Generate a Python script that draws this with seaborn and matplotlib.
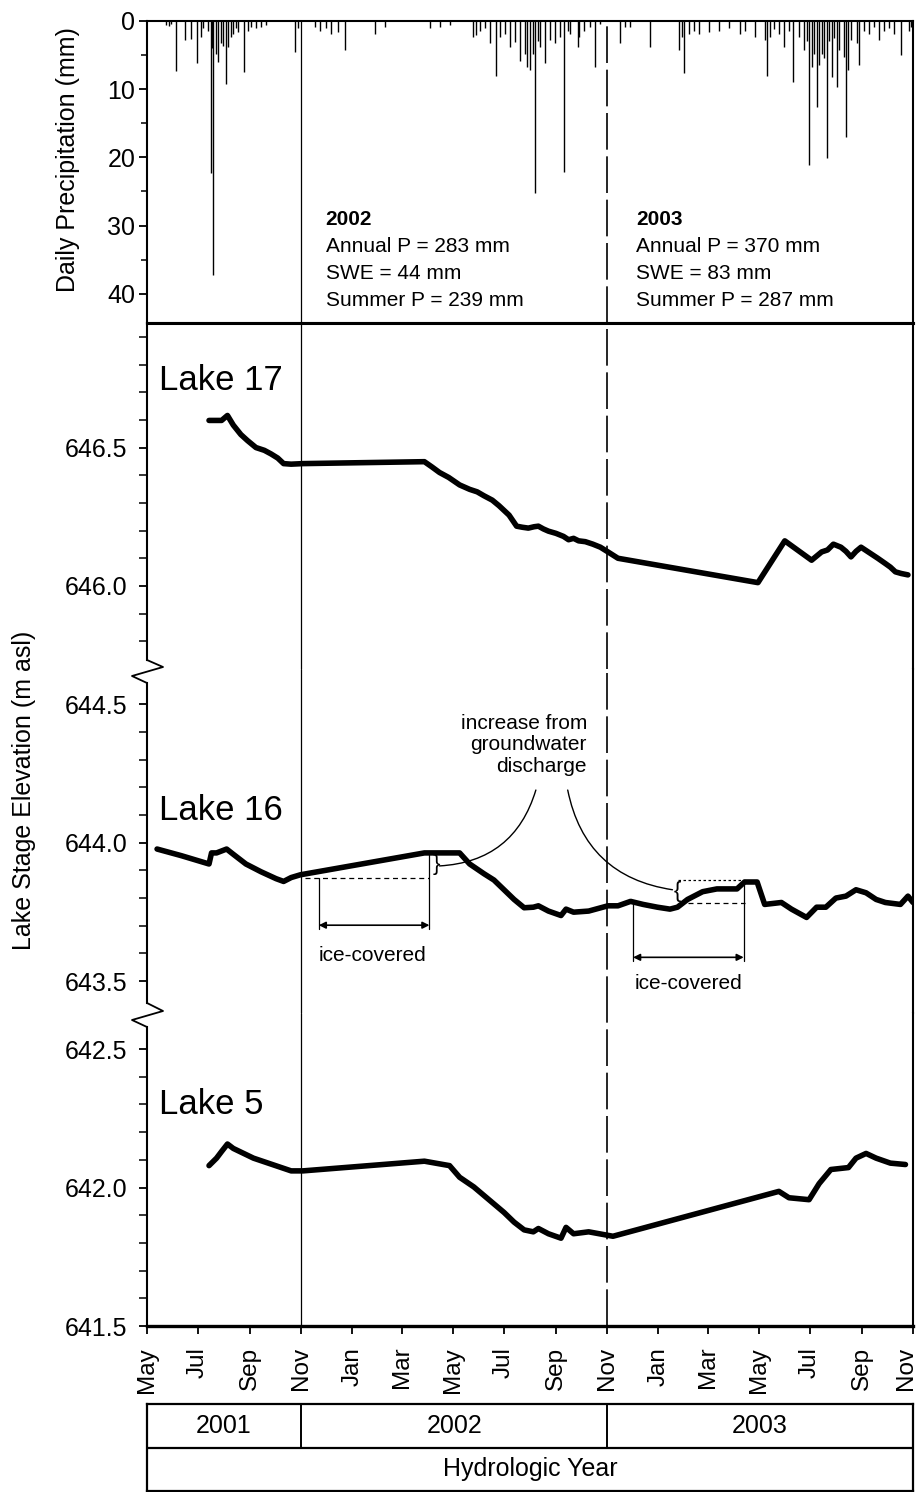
import numpy as np
import pandas as pd
import matplotlib
matplotlib.use("Agg")
import matplotlib.pyplot as plt
import matplotlib.dates as mdates
import matplotlib.transforms as mtransforms
from matplotlib.ticker import MultipleLocator, FixedLocator, FormatStrFormatter
from matplotlib.lines import Line2D
import seaborn as sns

sns.set_theme(style="ticks")
plt.rcParams['font.family'] = ['Liberation Sans', 'DejaVu Sans']
plt.rcParams['text.color'] = 'black'
plt.rcParams['axes.labelcolor'] = 'black'
plt.rcParams['xtick.color'] = 'black'
plt.rcParams['ytick.color'] = 'black'

START = pd.Timestamp("2001-05-01")
END = pd.Timestamp("2003-11-01")
NOV01 = pd.Timestamp("2001-11-01")
NOV02 = pd.Timestamp("2002-11-01")

# ---------------- data (days since 2001-05-01) ----------------
precip_day = [23, 26, 29, 35, 45, 52, 60, 64, 67, 73, 76, 78, 79, 82, 85, 88, 91, 94, 97, 100,
              103, 106, 109, 116, 121, 124, 130, 136, 142, 177, 180, 201, 207, 213, 219, 228, 236, 272, 284, 338,
              350, 362, 389, 392, 397, 403, 409, 417, 421, 427, 433, 439, 445, 451, 454, 457, 460, 463, 466, 469,
              475, 481, 487, 493, 497, 502, 505, 514, 516, 522, 528, 534, 540, 564, 570, 576, 600, 635, 638, 641,
              647, 653, 659, 671, 683, 695, 707, 713, 725, 737, 740, 743, 748, 754, 760, 766, 771, 778, 784, 787,
              790, 793, 796, 799, 802, 805, 808, 811, 814, 817, 820, 823, 826, 832, 834, 837, 840, 847, 850, 856,
              862, 867, 873, 879, 885, 891, 900, 909, 912]
precip_mm = [0.6, 0.8, 0.5, 7.4, 2.8, 2.6, 6.2, 2.3, 1.0, 1.5, 22.3, 4.0, 37.2, 4.8, 6.0, 3.3, 3.6, 9.2, 3.8, 2.3,
             1.9, 1.0, 1.6, 7.5, 1.4, 0.9, 1.1, 0.9, 0.6, 4.5, 1.0, 0.9, 1.5, 1.0, 1.9, 1.6, 4.3, 1.9, 0.9, 1.1,
             0.9, 0.6, 2.3, 2.1, 1.4, 1.1, 3.3, 8.0, 2.3, 1.9, 3.8, 3.1, 5.8, 4.8, 6.7, 7.2, 4.8, 25.3, 3.0, 3.8,
             6.2, 2.8, 3.3, 2.3, 22.1, 1.5, 1.9, 3.8, 2.3, 1.4, 0.9, 6.7, 0.5, 3.3, 0.9, 0.9, 3.8, 4.3, 2.3, 7.7,
             1.9, 1.4, 1.9, 1.6, 1.4, 1.1, 1.9, 1.4, 2.3, 2.8, 8.0, 2.3, 1.2, 1.9, 3.8, 1.4, 8.9, 2.3, 4.3, 3.0,
             21.1, 6.7, 4.8, 12.6, 6.5, 4.8, 5.5, 20.1, 3.0, 8.2, 2.5, 9.7, 4.3, 5.3, 17.0, 7.2, 2.8, 3.3, 6.5, 1.5,
             1.9, 0.9, 2.8, 1.4, 1.0, 1.9, 5.0, 1.4, 0.9]

lake17_day = [74, 89, 96, 103, 112, 120, 130, 140, 148, 156, 163, 172, 186, 331, 340, 349, 360, 373, 385, 394,
              402, 412, 420, 432, 441, 448, 455, 462, 467, 473, 479, 488, 497, 503, 509, 515, 523, 532, 541, 550,
              562, 729, 761, 793, 805, 812, 819, 828, 834, 840, 846, 852, 858, 864, 872, 881, 887, 893, 900, 908]
lake17_m = [646.598, 646.598, 646.616, 646.581, 646.547, 646.525, 646.500, 646.490, 646.477, 646.462,
            646.442, 646.440, 646.442, 646.449, 646.430, 646.410, 646.392, 646.365, 646.349, 646.340,
            646.326, 646.310, 646.290, 646.256, 646.216, 646.212, 646.209, 646.214, 646.216, 646.206,
            646.198, 646.190, 646.179, 646.167, 646.172, 646.163, 646.160, 646.151, 646.140, 646.123,
            646.100, 646.012, 646.163, 646.093, 646.123, 646.130, 646.151, 646.140, 646.125, 646.105,
            646.125, 646.140, 646.128, 646.116, 646.100, 646.081, 646.068, 646.051, 646.045, 646.040]

lake16_day = [12, 41, 74, 77, 83, 95, 103, 118, 136, 154, 163, 172, 183, 331, 373, 385, 402, 414, 426, 438,
              450, 461, 467, 479, 494, 500, 509, 527, 550, 562, 577, 592, 609, 624, 633, 645, 663, 680, 704, 713,
              728, 737, 757, 769, 787, 799, 810, 822, 834, 846, 858, 870, 881, 899, 908, 914]
lake16_m = [643.977, 643.953, 643.923, 643.963, 643.963, 643.977, 643.958, 643.923, 643.895, 643.870,
            643.860, 643.874, 643.884, 643.963, 643.963, 643.923, 643.888, 643.865, 643.830, 643.795,
            643.765, 643.767, 643.772, 643.753, 643.737, 643.760, 643.749, 643.753, 643.772, 643.772,
            643.788, 643.777, 643.767, 643.760, 643.767, 643.795, 643.823, 643.833, 643.833, 643.858,
            643.858, 643.777, 643.784, 643.760, 643.730, 643.767, 643.767, 643.800, 643.807, 643.830,
            643.819, 643.795, 643.784, 643.777, 643.807, 643.784]

lake5_day = [74, 83, 89, 96, 103, 127, 172, 186, 331, 361, 373, 390, 408, 426, 438, 450, 461, 467, 479, 494,
             500, 509, 527, 556, 754, 766, 790, 802, 816, 837, 846, 858, 870, 887, 905]
lake5_m = [642.079, 642.106, 642.130, 642.157, 642.141, 642.106, 642.060, 642.060, 642.095, 642.079,
           642.037, 642.002, 641.956, 641.910, 641.875, 641.847, 641.840, 641.852, 641.833, 641.817,
           641.856, 641.833, 641.840, 641.824, 641.986, 641.963, 641.956, 642.014, 642.065, 642.072,
           642.106, 642.123, 642.106, 642.088, 642.083]

year_labels = ["2001", "2002", "2003"]
year_bounds = [START, NOV01, NOV02, END]
stats_2002 = ["2002", "Annual P = 283 mm", "SWE = 44 mm", "Summer P = 239 mm"]
stats_2003 = ["2003", "Annual P = 370 mm", "SWE = 83 mm", "Summer P = 287 mm"]


def to_dates(days):
    return START + pd.to_timedelta(np.asarray(days), unit="D")


# ---------------- layout ----------------
W, H = 921, 1492
fig = plt.figure(figsize=(W / 100, H / 100), dpi=100)


def rect(l, t, r, b):
    return [l / W, 1 - b / H, (r - l) / W, (b - t) / H]


L, R = 147, 913
B1, B2 = 669, 1013
ax_p = fig.add_axes(rect(L, 21, R, 323))
ax17 = fig.add_axes(rect(L, 323, R, B1), sharex=ax_p)
ax16 = fig.add_axes(rect(L, B1, R, B2), sharex=ax_p)
ax5 = fig.add_axes(rect(L, B2, R, 1326), sharex=ax_p)
ax_y = fig.add_axes(rect(L, 1404, R, 1491), sharex=ax_p)

seg_lims = {ax17: (645.70, 646.95), ax16: (643.385, 644.627), ax5: (641.5, 642.630)}
PX_PER_M = 277.0
LAKE_LW = 4.0

# ---------------- precipitation ----------------
ax_p.vlines(to_dates(precip_day), 0, precip_mm, color="black", lw=1.0)
ax_p.set_ylim(44.3, 0)
ax_p.yaxis.set_major_locator(MultipleLocator(10))
ax_p.yaxis.set_minor_locator(MultipleLocator(5))
ax_p.tick_params(axis="y", which="major", direction="out", length=6, width=1.3,
                 labelsize=18, pad=2.5, colors="black")
ax_p.tick_params(axis="y", which="minor", direction="out", length=4, width=1.1, colors="black")
for s in ax_p.spines.values():
    s.set_color("black")
    s.set_linewidth(1.5)
ax_p.spines["bottom"].set_linewidth(2.2)
ax_p.set_ylabel("")

for stats, day in ((stats_2002, 213), (stats_2003, 584)):
    x = START + pd.Timedelta(days=day)
    for i, line in enumerate(stats):
        ax_p.text(x, 29.1 + 3.95 * i, line, fontsize=15, va="center", ha="left",
                  fontweight="bold" if i == 0 else "normal", color="black")

fig.text(68 / W, 1 - 160 / H, "Daily Precipitation (mm)", rotation=90, fontsize=18,
         ha="center", va="center", color="black")

# ---------------- lakes ----------------
sns.lineplot(x=to_dates(lake17_day), y=lake17_m, ax=ax17, color="black", lw=LAKE_LW,
             estimator=None, sort=False)
sns.lineplot(x=to_dates(lake16_day), y=lake16_m, ax=ax16, color="black", lw=LAKE_LW,
             estimator=None, sort=False)
sns.lineplot(x=to_dates(lake5_day), y=lake5_m, ax=ax5, color="black", lw=LAKE_LW,
             estimator=None, sort=False)

for ax, (lo, hi) in seg_lims.items():
    ax.set_ylim(lo, hi)
    ax.set_ylabel("")
    ax.yaxis.set_major_locator(MultipleLocator(0.5))
    ax.yaxis.set_major_formatter(FormatStrFormatter("%.1f"))
    ax.tick_params(axis="y", which="major", direction="out", length=6, width=1.3,
                   labelsize=18, pad=8, colors="black")
    ax.tick_params(axis="y", which="minor", direction="out", length=6, width=1.1, colors="black")
    for s in ax.spines.values():
        s.set_color("black")
        s.set_linewidth(1.5)
    ax.spines["bottom"].set_visible(False)
    ax.spines["top"].set_visible(False)

# spine bounds with breaks
ax17.spines["left"].set_bounds(645.70 + 9 / PX_PER_M, 646.95)
ax16.spines["left"].set_bounds(643.385 + 10 / PX_PER_M, 644.627 - 14 / PX_PER_M)
ax5.spines["left"].set_bounds(641.5, 642.630 - 14 / PX_PER_M)
ax17.yaxis.set_minor_locator(FixedLocator(np.round(np.arange(645.8, 646.95, 0.1), 1)))
ax16.yaxis.set_minor_locator(FixedLocator(np.round(np.arange(643.5, 644.55, 0.1), 1)))
ax5.yaxis.set_minor_locator(FixedLocator(np.round(np.arange(641.5, 642.55, 0.1), 1)))
ax17.spines["top"].set_visible(True)
ax17.spines["top"].set_linewidth(2.2)
ax5.spines["bottom"].set_visible(True)
ax5.spines["bottom"].set_linewidth(2.4)

# zigzag break marks
for yb, up, dn in ((B1, 9, 14), (B2, 10, 14)):
    xs = [L, L + 16, L - 15, L]
    ys = [yb - up, yb - 2, yb + 7, yb + dn]
    fig.add_artist(Line2D([x / W for x in xs], [1 - y / H for y in ys], color="black",
                          lw=1.3, transform=fig.transFigure))

# lake labels
ax17.text(START + pd.Timedelta(days=14), 646.742, "Lake 17", fontsize=25, va="center", ha="left",
          color="black")
ax16.text(START + pd.Timedelta(days=14), 644.117, "Lake 16", fontsize=25, va="center", ha="left",
          color="black")
ax5.text(START + pd.Timedelta(days=14), 642.300, "Lake 5", fontsize=25, va="center", ha="left",
         color="black")

fig.text(24 / W, 1 - 790 / H, "Lake Stage Elevation (m asl)", rotation=90, fontsize=18,
         ha="center", va="center", color="black")

# vertical hydrologic-year lines
for ax in (ax_p, ax17, ax16, ax5):
    ax.axvline(NOV01, color="black", lw=0.9)
    ax.axvline(NOV02, color="black", lw=1.2, dashes=(22, 4))


# ice-covered annotations (lake 16)
def d(n):
    return START + pd.Timedelta(days=n)


ax16.plot([d(189), d(337)], [643.874, 643.874], color="black", lw=0.9, dashes=(4, 3))
ax16.plot([d(205), d(205)], [643.874, 643.690], color="black", lw=0.9)
ax16.plot([d(337), d(337)], [643.963, 643.690], color="black", lw=0.9)
ax16.annotate("", xy=(d(337), 643.702), xytext=(d(205), 643.702),
              arrowprops=dict(arrowstyle="<|-|>", color="black", lw=1.2, mutation_scale=10,
                              shrinkA=0, shrinkB=0))
ax16.text(d(269), 643.591, "ice-covered", fontsize=15, ha="center", va="center", color="black")
ax16.text(d(341), 643.921, "}", fontsize=16, ha="left", va="center", color="black")

ax16.plot([d(633), d(713)], [643.865, 643.865], color="black", lw=0.9, dashes=(2, 2))
ax16.plot([d(645), d(713)], [643.781, 643.781], color="black", lw=0.9, dashes=(4, 3))
ax16.plot([d(580), d(580)], [643.784, 643.574], color="black", lw=0.9)
ax16.plot([d(712), d(712)], [643.858, 643.574], color="black", lw=0.9)
ax16.annotate("", xy=(d(712), 643.586), xytext=(d(580), 643.586),
              arrowprops=dict(arrowstyle="<|-|>", color="black", lw=1.2, mutation_scale=10,
                              shrinkA=0, shrinkB=0))
ax16.text(d(646), 643.493, "ice-covered", fontsize=15, ha="center", va="center", color="black")
ax16.text(d(637), 643.823, "{", fontsize=16, ha="right", va="center", color="black")

ax16.text(d(525), 644.353, "increase from\ngroundwater\ndischarge", fontsize=15,
          ha="right", va="center", multialignment="right", linespacing=1.15, color="black")
ax16.annotate("", xy=(d(349), 643.916), xytext=(d(464), 644.19),
              arrowprops=dict(arrowstyle="-", color="black", lw=1.0,
                              connectionstyle="arc3,rad=-0.35", shrinkA=0, shrinkB=0))
ax16.annotate("", xy=(d(627), 643.83), xytext=(d(502), 644.19),
              arrowprops=dict(arrowstyle="-", color="black", lw=1.0,
                              connectionstyle="arc3,rad=0.35", shrinkA=0, shrinkB=0))

# ---------------- x axis ----------------
ax_p.set_xlim(START, END)
ax5.xaxis.set_major_locator(mdates.MonthLocator(bymonth=[1, 3, 5, 7, 9, 11]))
ax5.xaxis.set_major_formatter(mdates.DateFormatter("%b"))
for ax in (ax_p, ax17, ax16, ax_y):
    ax.tick_params(axis="x", which="both", bottom=False, top=False, labelbottom=False)
ax5.tick_params(axis="x", which="major", bottom=True, direction="out", length=6, width=1.3,
                labelsize=17.5, pad=9, labelrotation=90, colors="black")
ax5.set_xlabel("")

# ---------------- hydrologic year boxes ----------------
ax_y.set_ylim(0, 2)
ax_y.tick_params(axis="y", left=False, labelleft=False)
for s in ax_y.spines.values():
    s.set_color("black")
    s.set_linewidth(1.6)
ax_y.axhline(1, color="black", lw=1.6)
ax_y.vlines([NOV01, NOV02], 1, 2, color="black", lw=1.4)
for lab, a, b in zip(year_labels, year_bounds[:-1], year_bounds[1:]):
    ax_y.text(a + (b - a) / 2, 1.5, lab, fontsize=18, ha="center", va="center", color="black")
ax_y.text(START + (END - START) / 2, 0.5, "Hydrologic Year", fontsize=18, ha="center", va="center",
          color="black")

# keep the last month label inside the canvas (nudge left by a few pixels)
fig.canvas.draw()
labels = ax5.get_xticklabels()
for lab in labels:
    lab.set_va("top")
last = labels[-1]
last.set_transform(last.get_transform() + mtransforms.ScaledTranslation(-7 / 100, 0, fig.dpi_scale_trans))

fig.savefig("out.png", dpi=100)
